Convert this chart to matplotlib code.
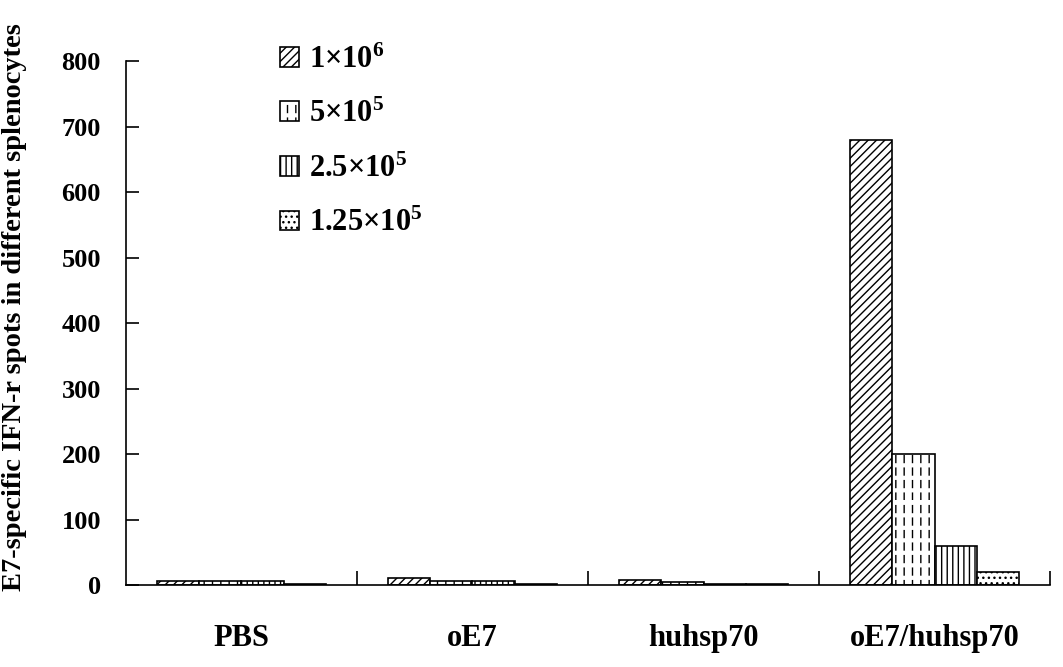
import numpy as np
import matplotlib
matplotlib.use("Agg")
import matplotlib.pyplot as plt
from matplotlib import hatch as mhatch

# data
groups = ["PBS", "oE7", "huhsp70", "oE7/huhsp70"]
series_labels = ["1×10$^{6}$", "5×10$^{5}$", "2.5×10$^{5}$", "1.25×10$^{5}$"]
spots_1e6 = [6, 10, 8, 680]
spots_5e5 = [6, 6, 5, 200]
spots_25e4 = [6, 6, 2, 60]
spots_125e4 = [2, 2, 2, 20]
yticks = [0, 100, 200, 300, 400, 500, 600, 700, 800]


# dashed vertical line hatch, used for the 5x10^5 series
class DashedVertical(mhatch.HatchPatternBase):
    def __init__(self, hatch, density):
        self.num_lines = int(hatch.count(':') * density)
        self.num_dashes = 8
        self.num_vertices = self.num_lines * self.num_dashes * 2

    def set_vertices_and_codes(self, vertices, codes):
        k = 0
        for i in range(self.num_lines):
            x = (i + 0.5) / self.num_lines
            for j in range(self.num_dashes):
                y0 = j / self.num_dashes
                vertices[k] = (x, y0)
                vertices[k + 1] = (x, y0 + 0.55 / self.num_dashes)
                codes[k] = matplotlib.path.Path.MOVETO
                codes[k + 1] = matplotlib.path.Path.LINETO
                k += 2


mhatch._hatch_types.append(DashedVertical)

plt.rcParams['font.family'] = ['Liberation Serif', 'DejaVu Serif']
plt.rcParams['font.weight'] = 'bold'
plt.rcParams['mathtext.fontset'] = 'custom'
plt.rcParams['mathtext.rm'] = 'Liberation Serif:bold'
plt.rcParams['mathtext.default'] = 'rm'
plt.rcParams['hatch.linewidth'] = 1.0

fig = plt.figure(figsize=(10.63, 6.67), dpi=100)
ax = fig.add_axes([0.1185, 0.1229, 0.8693, 0.7856])

x = np.arange(len(groups))
width = 0.182
all_series = [spots_1e6, spots_5e5, spots_25e4, spots_125e4]
hatches = ['////', '::', '|||', '...']
for i, (vals, lab, h) in enumerate(zip(all_series, series_labels, hatches)):
    ax.bar(x + (i - 1.5) * width, vals, width, label=lab, color='white',
           edgecolor='black', hatch=h, linewidth=1.2)

ax.set_xlim(-0.5, 3.5)
ax.set_ylim(0, 800)
ax.set_yticks(yticks)
ax.set_xticks(x)
ax.set_xticklabels(groups, fontsize=22, fontweight='bold')
ax.set_xticks(np.arange(0.5, 4.0, 1.0), minor=True)
ax.tick_params(axis='x', which='major', length=0, pad=28)
ax.tick_params(axis='x', which='minor', direction='in', length=10, width=1.2)
ax.tick_params(axis='y', direction='in', length=9, width=1.2, labelsize=19, pad=18)
for lbl in ax.get_yticklabels():
    lbl.set_fontweight('bold')
for s in ['top', 'right']:
    ax.spines[s].set_visible(False)
for s in ['left', 'bottom']:
    ax.spines[s].set_linewidth(1.2)

ax.set_ylabel("E7-specific IFN-r spots in different splenocytes", fontsize=20.5,
              fontweight='bold')
ax.yaxis.set_label_coords(-0.107, 0.53)

leg = ax.legend(loc='upper left', bbox_to_anchor=(280 / 1063, 0.932),
                bbox_transform=fig.transFigure, frameon=False, fontsize=22,
                handlelength=0.62, handleheight=0.62, handletextpad=0.33,
                labelspacing=0.83, borderpad=0, borderaxespad=0)

fig.savefig("out.png", dpi=100)
